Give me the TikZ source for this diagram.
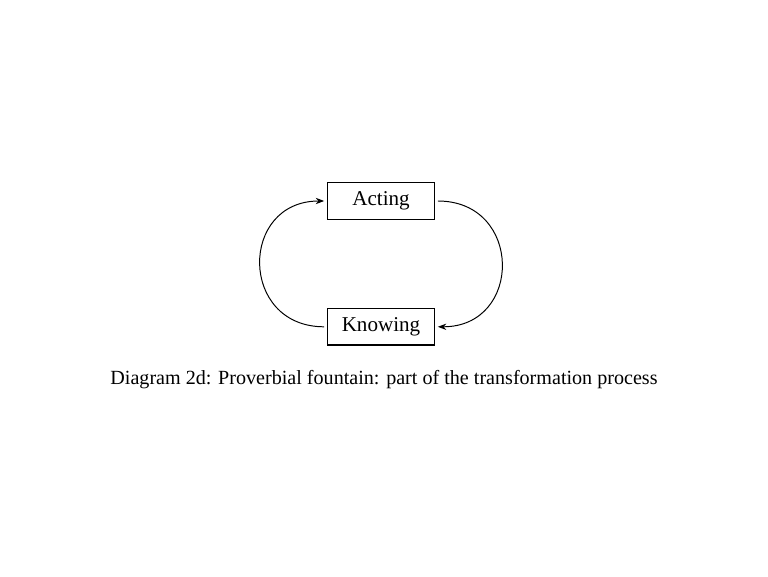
\documentclass[tikz,border=0pt]{standalone}
\usepackage{fontspec}
\setmainfont{Liberation Serif}
\usetikzlibrary{arrows.meta}

\begin{document}
\begin{tikzpicture}[%
% common options for the boxes:
box/.style = {rectangle, draw, line width=0.9pt, minimum width=2.67cm,
            minimum height=0.91cm, inner sep=0, font=\fontsize{15}{17}\selectfont},
% common options for the curved arrows:
loop/.style = {-{Stealth[length=6pt,width=4.5pt]}, line width=0.7pt,
            shorten <=2pt, shorten >=2pt}]
\useasboundingbox (0,0) rectangle (19.2,14.4);
\node[box] (A) at (9.525,9.375) {Acting};
\node[box] (K) at (9.525,6.23) {Knowing};
\node[font=\fontsize{14.3}{17}\selectfont] (cap) at (9.6,4.9)
  {Diagram 2d: Proverbial fountain: part of the transformation process};
\draw[loop] (K.west) .. controls +(-2.2,0) and +(-2.2,0) .. (A.west);
\draw[loop] (A.east) .. controls +(2.2,0) and +(2.2,0) .. (K.east);
\end{tikzpicture}
\end{document}
